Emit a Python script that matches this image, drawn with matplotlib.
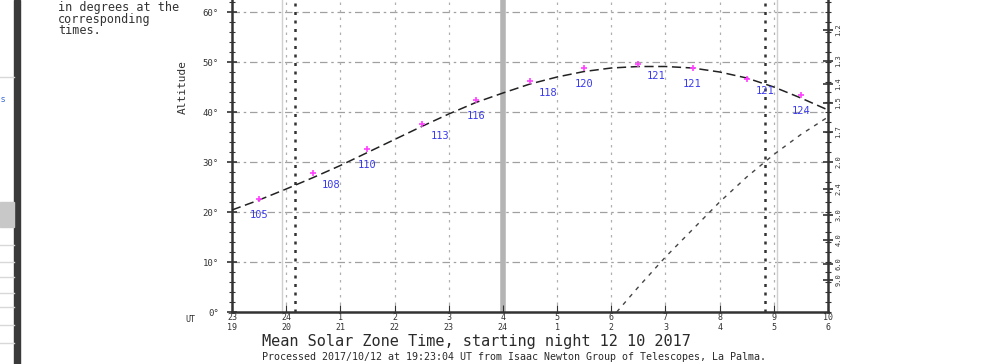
import numpy as np
import matplotlib.pyplot as plt
from matplotlib.patches import Rectangle
from matplotlib.lines import Line2D

# object track (mean solar zone time, hours after midnight counted past 24)
hours = [19.0, 19.5, 20.0, 20.5, 21.0, 21.5, 22.0, 22.5, 23.0, 23.5, 24.0, 24.5,
         25.0, 25.5, 26.0, 26.5, 27.0, 27.5, 28.0, 28.5, 29.0, 29.5, 30.0]
altitude = [20.4, 22.4, 24.6, 26.9, 29.3, 31.9, 34.5, 37.1, 39.6, 41.9, 43.8, 45.6,
            47.0, 48.1, 48.8, 49.1, 49.1, 48.8, 48.0, 46.8, 45.0, 42.8, 40.4]

# moon track
moon_hours = [26.1, 26.5, 27.0, 27.5, 28.0, 28.5, 29.0, 29.5, 30.0]
moon_alt = [0.0, 5.0, 11.0, 16.5, 22.0, 27.0, 31.5, 35.5, 39.0]

# moon distance markers
mark_hours = [19.5, 20.5, 21.5, 22.5, 23.5, 24.5, 25.5, 26.5, 27.5, 28.5, 29.5]
mark_alt = [22.6, 27.8, 32.6, 37.6, 42.4, 46.2, 48.8, 49.6, 48.8, 46.6, 43.4]
moon_dist = ['105', '108', '110', '113', '116', '118', '120', '121', '121', '121', '124']

tick_hours = list(range(19, 31))
ut_labels = ['23', '24', '1', '2', '3', '4', '5', '6', '7', '8', '9', '10']
local_labels = ['19', '20', '21', '22', '23', '24', '1', '2', '3', '4', '5', '6']

twilight = [20.16, 28.83]
sun_lines = [19.93, 29.05]
midnight = 24.0

alt_ticks = [0, 10, 20, 30, 40, 50, 60]
airmass_ticks = [1.2, 1.3, 1.4, 1.5, 1.7, 2.0, 2.4, 3.0, 4.0, 6.0, 9.0]

W, H = 993, 364
mono = 'DejaVu Sans Mono'

fig = plt.figure(figsize=(W / 100, H / 100), dpi=100)
fig.patch.set_facecolor('white')

# the plot runs up to 90 deg, but the screenshot is cut at about 62 deg
ax = fig.add_axes([232 / W, 52 / H, 596 / W, 450 / H])
ax.set_xlim(19, 30)
ax.set_ylim(0, 90)

# grid
for a in alt_ticks[1:]:
    ax.axhline(a, color='#a0a0a0', lw=0.9, ls=(0, (6, 3, 2, 3)), zorder=1)
for h in tick_hours[1:-1]:
    if h == midnight:
        continue
    ax.axvline(h, color='#b0b0b0', lw=0.9, ls=(0, (2, 4)), zorder=1)
ax.axvline(midnight, color='#b4b4b4', lw=4, zorder=1)
for h in sun_lines:
    ax.axvline(h, color='#d0d0d0', lw=1.0, zorder=1)
for h in twilight:
    ax.axvline(h, color='#333333', lw=1.8, ls=(0, (1.2, 2.2)), zorder=2)

# curves
ax.plot(hours, altitude, color='#222222', lw=1.1, ls=(0, (6, 3)), zorder=3)
ax.plot(moon_hours, moon_alt, color='#444444', lw=1.0, ls=(0, (3, 4)), zorder=3)

ax.plot(mark_hours, mark_alt, ls='none', marker='+', ms=5, mew=1.2,
        color='#ff40ff', zorder=4)
for i, (h, a, d) in enumerate(zip(mark_hours, mark_alt, moon_dist)):
    dx = 18 if i % 2 else 0
    dy = -12 if i % 2 else -16
    ax.annotate(d, (h, a), xytext=(dx, dy), textcoords='offset pixels',
                ha='center', va='center', fontsize=7.5, family=mono,
                color='#3a3aee', zorder=5)

# axes styling
for side in ['left', 'right', 'bottom']:
    ax.spines[side].set_linewidth(1.8)
    ax.spines[side].set_color('#333333')

ax.set_xticks(tick_hours)
ax.set_xticklabels([f'{u}\n{l}' for u, l in zip(ut_labels, local_labels)],
                   fontsize=6, family=mono, linespacing=1.15, color='#333333')
ax.tick_params(axis='x', direction='in', length=5, pad=1, color='#333333')

ax.set_yticks(alt_ticks)
ax.set_yticklabels([f'{a}°' for a in alt_ticks], fontsize=6.5, family=mono,
                   color='#333333')
ax.set_yticks(np.arange(0, 63, 2), minor=True)
ax.tick_params(axis='y', which='major', direction='inout', length=7, width=1.2,
               pad=6, color='#333333')
ax.tick_params(axis='y', which='minor', direction='inout', length=4, width=0.8,
               color='#333333')

ax2 = ax.twinx()
ax2.set_ylim(0, 90)
ax2.set_yticks([np.degrees(np.arcsin(1.0 / x)) for x in airmass_ticks])
ax2.set_yticklabels([f'{x:.1f}' for x in airmass_ticks], fontsize=5,
                    family=mono, rotation=90, va='center', color='#333333')
ax2.set_yticks(np.arange(0, 63, 2), minor=True)
ax2.tick_params(axis='y', which='major', direction='inout', length=7, width=1.2,
                pad=2, color='#333333')
ax2.tick_params(axis='y', which='minor', direction='inout', length=4, width=0.8,
                color='#333333')
for side in ['left', 'right', 'bottom', 'top']:
    ax2.spines[side].set_visible(False)

# texts
fig.text(183 / W, 1 - 87 / H, 'Altitude', rotation=90, ha='center', va='center',
         fontsize=8, family=mono, color='#333333')
fig.text(190 / W, 1 - 319 / H, 'UT', ha='center', va='center',
         fontsize=6, family=mono, color='#333333')
fig.text(262 / W, 1 - 341.5 / H, 'Mean Solar Zone Time, starting night 12 10 2017',
         ha='left', va='center', fontsize=11, family=mono, color='#2a2a2a')
fig.text(262 / W, 1 - 356.5 / H,
         'Processed 2017/10/12 at 19:23:04 UT from Isaac Newton Group of Telescopes, La Palma.',
         ha='left', va='center', fontsize=7.2, family=mono, color='#2a2a2a')
for i, line in enumerate(['in degrees at the', 'corresponding', 'times.']):
    fig.text(58 / W, 1 - (7 + 12 * i) / H, line, ha='left', va='center',
             fontsize=8.5, family=mono, color='#333333')

# window edge on the left of the screenshot
fig.add_artist(Rectangle((14 / W, 0), 6 / W, 1, transform=fig.transFigure,
                         color='#3a3a3a', zorder=0))
fig.add_artist(Rectangle((0, 1 - 227 / H), 14 / W, 25 / H, transform=fig.transFigure,
                         color='#c8c8c8', zorder=0))
for yy in [77, 245, 262, 277, 293, 307, 325, 343]:
    fig.add_artist(Line2D([0, 14 / W], [1 - yy / H, 1 - yy / H],
                          transform=fig.transFigure, color='#d8d8d8', lw=1))
fig.text(1 / W, 1 - 100 / H, 's', fontsize=6, color='#3a6ad0', va='center')

fig.savefig('out.png', dpi=100, facecolor='white')
